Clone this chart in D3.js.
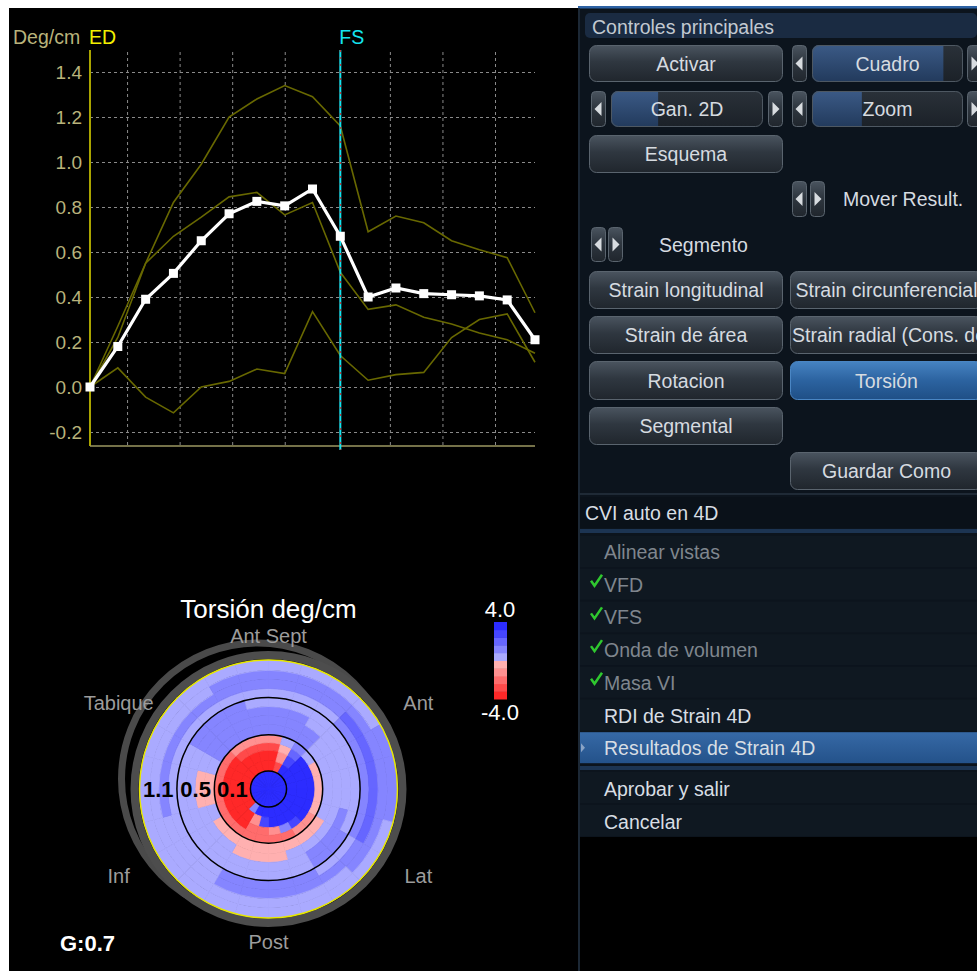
<!DOCTYPE html>
<html>
<head>
<meta charset="utf-8">
<script src="https://cdn.jsdelivr.net/npm/d3@7/dist/d3.min.js"></script>
<style>
    body { margin: 0; background: #ffffff; }
    svg text { font-family: "Liberation Sans", Arial, sans-serif; }
</style>
</head>
<body>
<svg id="screen" width="977" height="971"></svg>
<script>
// ---- torsion curves (deg/cm), one value per frame ----
var frames = [0, 1, 2, 3, 4, 5, 6, 7, 8, 9, 10, 11, 12, 13, 14, 15, 16];
var meanTorsion = [0.00, 0.18, 0.39, 0.505, 0.65, 0.77, 0.825, 0.805, 0.88, 0.67, 0.40, 0.44, 0.415, 0.41, 0.405, 0.387, 0.21];
var levelA = [0.00, 0.27, 0.55, 0.82, 0.99, 1.20, 1.28, 1.34, 1.29, 1.16, 0.69, 0.76, 0.73, 0.65, 0.61, 0.575, 0.33];
var levelB = [0.00, 0.22, 0.55, 0.67, 0.755, 0.845, 0.865, 0.765, 0.82, 0.51, 0.345, 0.365, 0.31, 0.28, 0.24, 0.21, 0.15];
var levelC = [0.00, 0.085, -0.045, -0.115, 0.00, 0.025, 0.08, 0.06, 0.335, 0.14, 0.03, 0.055, 0.065, 0.22, 0.30, 0.325, 0.11];
var yTicks = [-0.2, 0.0, 0.2, 0.4, 0.6, 0.8, 1.0, 1.2, 1.4];
var gridFrames = [1.35, 3.24, 5.13, 7.02, 10.8, 12.69, 14.58];
var edFrame = 0;
var fsFrame = 9;

// ---- bull's eye: torsion map, rings (inner -> outer) x 24 sectors clockwise from Ant Sept ----
var ringEdges = [0, 0.14, 0.22, 0.30, 0.36, 0.42, 0.50, 0.57, 0.64, 0.71, 0.78, 0.85, 0.92, 1.0];
var torsionRings = [
    [3.6, 3.6, 3.6, 3.6, 3.6, 3.6, 3.6, 3.6, 3.6, 3.6, 3.6, 3.6, 3.6, 3.6, 3.6, 3.6, 3.6, 3.6, 3.6, 3.6, 3.6, 3.6, 3.6, 3.6],
    [-3.6, -2.8, 3.6, 3.6, 3.6, 3.6, 3.6, 3.6, 3.6, 3.6, 3.6, 3.6, 3.6, 3.6, 1.2, -3.6, -3.6, -3.6, -3.6, -3.6, -3.6, -3.6, -3.6, -3.6],
    [-3.6, -1.2, 2.8, 3.6, 3.6, 3.6, 3.6, 3.6, 3.6, 3.6, 3.6, 3.6, 2.8, -1.2, -3.6, -3.6, -3.6, -3.6, -3.6, -3.6, -3.6, -3.6, -3.6, -3.6],
    [-2.8, -0.4, 2.0, 3.6, 3.6, 3.6, 3.6, 3.6, 3.6, 2.8, 1.2, -1.2, -2.0, -2.0, -3.6, -3.6, -3.6, -3.6, -3.6, -3.6, -3.6, -2.8, -2.8, -2.8],
    [-1.2, 0.4, 1.2, 0.4, -0.4, -0.4, -0.4, -0.4, -1.2, -1.2, -2.0, -2.0, -2.0, -2.0, -2.0, -2.0, -2.0, -2.0, -2.0, -2.0, -2.0, -1.2, -1.2, -1.2],
    [1.2, 1.2, 1.2, 0.4, 0.4, 0.4, 0.4, 0.4, -0.4, -0.4, -0.4, -0.4, -0.4, -0.4, -0.4, -0.4, 0.4, -0.4, -0.4, 0.4, 1.2, 1.2, 1.2, 1.2],
    [1.2, 1.2, 1.2, 0.4, 0.4, 0.4, 0.4, 0.4, 0.4, 0.4, 0.4, -0.4, -0.4, -0.4, 0.4, 0.4, 0.4, -0.4, -0.4, 0.4, 1.2, 1.2, 1.2, 1.2],
    [1.2, 1.2, 0.4, 0.4, 0.4, 0.4, 0.4, 1.2, 1.2, 1.2, 0.4, 0.4, 0.4, 0.4, 0.4, 0.4, 0.4, 0.4, 0.4, 0.4, 1.2, 1.2, 1.2, 1.2],
    [0.4, 0.4, 0.4, 0.4, 0.4, 0.4, 0.4, 0.4, 1.2, 1.2, 0.4, 0.4, 0.4, 0.4, 0.4, 0.4, 0.4, 0.4, 0.4, 0.4, 1.2, 1.2, 1.2, 0.4],
    [0.4, 0.4, 0.4, 1.2, 1.2, 1.2, 1.2, 1.2, 0.4, 0.4, 1.2, 1.2, 1.2, 1.2, 0.4, 0.4, 0.4, 0.4, 0.4, 0.4, 0.4, 0.4, 0.4, 0.4],
    [1.2, 1.2, 1.2, 2.0, 2.0, 2.0, 2.0, 2.0, 1.2, 1.2, 1.2, 1.2, 1.2, 1.2, 0.4, 0.4, 0.4, 1.2, 1.2, 1.2, 1.2, 1.2, 1.2, 1.2],
    [1.2, 1.2, 1.2, 1.2, 1.2, 1.2, 1.2, 1.2, 1.2, 0.4, 0.4, 0.4, 0.4, 0.4, 0.4, 0.4, 0.4, 0.4, 0.4, 0.4, 0.4, 0.4, 1.2, 1.2],
    [0.4, 0.4, 0.4, 0.4, 1.2, 1.2, 1.2, 0.4, 0.4, 0.4, 0.4, 0.4, 0.4, 0.4, 0.4, 0.4, 0.4, 0.4, 0.4, 0.4, 0.4, 0.4, 0.4, 0.4]
];
var zoneEdges = [0.14, 0.42, 0.71];
var zoneLabels = ["0.1", "0.5", "1.1"];
var wallNames = ["Ant Sept", "Ant", "Lat", "Post", "Inf", "Tabique"];
var wallAngles = [0, 60, 120, 180, 240, 300];
var colorLimits = [-4.0, 4.0];
var torsionColors = ["#ff2828", "#ff4a4a", "#ff6c6c", "#ff9090", "#ffb0b0",
                     "#aaaaff", "#8585ff", "#6666ff", "#4646ff", "#2c2cff"];

var font = '"Liberation Sans", Arial, sans-serif';
var svg = d3.select("#screen");

svg.append("rect").attr("width", 977).attr("height", 971).attr("fill", "#ffffff");
svg.append("rect").attr("x", 9).attr("y", 8).attr("width", 569).attr("height", 963).attr("fill", "#000000");

// ================= torsion curve =================
var x = d3.scaleLinear().domain([0, 16]).range([90, 535]);
var y = d3.scaleLinear().domain([-0.2, 1.4]).range([432, 72]);
var chart = svg.append("g");

// horizontal grid
chart.append("g")
    .attr("transform", "translate(" + x(0) + ",0)")
    .call(d3.axisLeft(y).tickValues(yTicks).tickSize(-(x(16) - x(0))).tickFormat(""))
    .call(function (g) { g.select(".domain").remove(); })
    .selectAll("line")
    .attr("stroke", "#8a8a8a")
    .attr("stroke-dasharray", "3,3");

// vertical grid
chart.selectAll(".vgrid")
    .data(gridFrames)
    .join("line")
    .attr("x1", function (d) { return x(d); })
    .attr("x2", function (d) { return x(d); })
    .attr("y1", 52)
    .attr("y2", 446)
    .attr("stroke", "#8a8a8a")
    .attr("stroke-dasharray", "3,3");

// tick labels
var yAxis = chart.append("g")
    .attr("transform", "translate(" + x(0) + ",0)")
    .call(d3.axisLeft(y).tickValues(yTicks).tickSize(0).tickPadding(8)
        .tickFormat(function (d) { return d.toFixed(1); }))
    .attr("font-family", font)
    .attr("font-size", 19);
yAxis.select(".domain").remove();
yAxis.selectAll("text").attr("fill", "#b9b37b");

// axis lines
chart.append("line")
    .attr("x1", x(0)).attr("x2", x(0)).attr("y1", 50).attr("y2", 446)
    .attr("stroke", "#a9a400").attr("stroke-width", 2);
chart.append("line")
    .attr("x1", x(0)).attr("x2", x(16)).attr("y1", 446).attr("y2", 446)
    .attr("stroke", "#9c9862").attr("stroke-width", 1.5);

// segment curves
var line = d3.line()
    .x(function (d, i) { return x(frames[i]); })
    .y(function (d) { return y(d); });

[levelA, levelB, levelC].forEach(function (s) {
    chart.append("path")
        .attr("d", line(s))
        .attr("fill", "none")
        .attr("stroke", "#686800")
        .attr("stroke-width", 1.6);
});

// FS marker
chart.append("line")
    .attr("x1", x(fsFrame)).attr("x2", x(fsFrame)).attr("y1", 50).attr("y2", 450)
    .attr("stroke", "#14e4f0").attr("stroke-width", 2);
chart.append("line")
    .attr("x1", x(fsFrame)).attr("x2", x(fsFrame)).attr("y1", 50).attr("y2", 450)
    .attr("stroke", "#e02020").attr("stroke-width", 1).attr("stroke-dasharray", "2,5");

// mean torsion
chart.append("path")
    .attr("d", line(meanTorsion))
    .attr("fill", "none")
    .attr("stroke", "#ffffff")
    .attr("stroke-width", 3.2);
chart.selectAll(".pt")
    .data(meanTorsion)
    .join("rect")
    .attr("x", function (d, i) { return x(frames[i]) - 4.5; })
    .attr("y", function (d) { return y(d) - 4.5; })
    .attr("width", 9)
    .attr("height", 9)
    .attr("fill", "#ffffff");

chart.append("text").attr("x", 13).attr("y", 44)
    .attr("font-size", 19.5).attr("fill", "#b9b37b").text("Deg/cm");
chart.append("text").attr("x", x(edFrame) - 1).attr("y", 44)
    .attr("font-size", 19.5).attr("fill", "#f4f000").text("ED");
chart.append("text").attr("x", x(fsFrame) - 1).attr("y", 44)
    .attr("font-size", 19.5).attr("fill", "#14e4f0").text("FS");

// ================= bull's eye =================
var bx = 268.5, by = 789, bR = 129;
var rr = d3.scaleLinear().domain([0, 1]).range([0, bR]);
var color = d3.scaleQuantize().domain(colorLimits).range(torsionColors);
var bull = svg.append("g");

bull.append("text").attr("x", bx).attr("y", 618).attr("text-anchor", "middle")
    .attr("font-size", 26).attr("fill", "#ffffff").text("Torsión deg/cm");

// rim of the other view, then the main rim
bull.append("circle").attr("cx", 257.5).attr("cy", 779).attr("r", 136)
    .attr("fill", "none").attr("stroke", "#4a4a4a").attr("stroke-width", 7);
bull.append("circle").attr("cx", bx).attr("cy", by).attr("r", 134)
    .attr("fill", "none").attr("stroke", "#4d4d4d").attr("stroke-width", 8);

var cells = [];
torsionRings.forEach(function (ring, k) {
    ring.forEach(function (v, i) {
        cells.push({ r0: ringEdges[k], r1: ringEdges[k + 1], i: i, n: ring.length, v: v });
    });
});
var arc = d3.arc()
    .innerRadius(function (d) { return rr(d.r0); })
    .outerRadius(function (d) { return rr(d.r1); })
    .startAngle(function (d) { return d.i / d.n * 2 * Math.PI; })
    .endAngle(function (d) { return (d.i + 1) / d.n * 2 * Math.PI; });

bull.append("g")
    .attr("transform", "translate(" + bx + "," + by + ")")
    .selectAll("path")
    .data(cells)
    .join("path")
    .attr("d", arc)
    .attr("fill", function (d) { return color(d.v); })
    .attr("stroke", function (d) { return color(d.v); })
    .attr("stroke-width", 0.8);

bull.selectAll(".zone")
    .data(zoneEdges)
    .join("circle")
    .attr("cx", bx).attr("cy", by)
    .attr("r", function (d) { return rr(d); })
    .attr("fill", "none").attr("stroke", "#000000").attr("stroke-width", 1.5);
bull.append("circle").attr("cx", bx).attr("cy", by).attr("r", rr(1))
    .attr("fill", "none").attr("stroke", "#e8e800").attr("stroke-width", 1.5);

var zoneOuter = zoneEdges.slice(1).concat([1]);
bull.selectAll(".zlab")
    .data(zoneLabels)
    .join("text")
    .attr("x", function (d, i) { return bx - rr((zoneEdges[i] + zoneOuter[i]) / 2); })
    .attr("y", by)
    .attr("text-anchor", "middle")
    .attr("dominant-baseline", "central")
    .attr("font-size", 22)
    .attr("font-weight", "bold")
    .attr("fill", "#000000")
    .text(function (d) { return d; });

bull.selectAll(".wall")
    .data(wallNames)
    .join("text")
    .attr("x", function (d, i) { return bx + 173 * Math.sin(wallAngles[i] * Math.PI / 180); })
    .attr("y", function (d, i) {
        var a = wallAngles[i] * Math.PI / 180;
        var rad = (wallAngles[i] % 180 === 0) ? 153 : 173;
        return by - rad * Math.cos(a);
    })
    .attr("text-anchor", "middle")
    .attr("dominant-baseline", "central")
    .attr("font-size", 20)
    .attr("fill", "#9c9c9c")
    .text(function (d) { return d; });

// colour bar
var cb = d3.scaleLinear().domain([colorLimits[1], colorLimits[0]]).range([622, 699]);
bull.selectAll(".band")
    .data(torsionColors)
    .join("rect")
    .attr("x", 494)
    .attr("width", 13)
    .attr("y", function (c) { return cb(color.invertExtent(c)[1]); })
    .attr("height", function (c) { var e = color.invertExtent(c); return cb(e[0]) - cb(e[1]) + 0.5; })
    .attr("fill", function (c) { return c; });
bull.append("text").attr("x", 500).attr("y", 617).attr("text-anchor", "middle")
    .attr("font-size", 22).attr("fill", "#ffffff").text(colorLimits[1].toFixed(1));
bull.append("text").attr("x", 500).attr("y", 720).attr("text-anchor", "middle")
    .attr("font-size", 22).attr("fill", "#ffffff").text(colorLimits[0].toFixed(1));

bull.append("text").attr("x", 60).attr("y", 951).attr("font-size", 22).attr("font-weight", "bold")
    .attr("fill", "#ffffff").text("G:0.7");

// ================= control panel =================
var defs = svg.append("defs");
function grad(id, stops) {
    var g = defs.append("linearGradient").attr("id", id).attr("x1", 0).attr("x2", 0).attr("y1", 0).attr("y2", 1);
    stops.forEach(function (s) { g.append("stop").attr("offset", s[0]).attr("stop-color", s[1]); });
}
grad("btn", [[0, "#4a545f"], [0.45, "#2f3740"], [1, "#20262d"]]);
grad("btnBlue", [[0, "#4683c2"], [0.5, "#2c63a0"], [1, "#1f4f86"]]);
grad("slot", [[0, "#2a3139"], [1, "#1b2128"]]);
grad("slotFill", [[0, "#3b5a86"], [1, "#223a5c"]]);
grad("sel", [[0, "#3669a6"], [1, "#24528a"]]);

var panel = svg.append("g");
panel.append("rect").attr("x", 578).attr("y", 8).attr("width", 399).attr("height", 829).attr("fill", "#0c141d");
panel.append("rect").attr("x", 578).attr("y", 6).attr("width", 399).attr("height", 2.5).attr("fill", "#2d62a4");
panel.append("line").attr("x1", 579).attr("x2", 579).attr("y1", 8).attr("y2", 971)
    .attr("stroke", "#1c2835").attr("stroke-width", 2);
panel.append("rect").attr("x", 585).attr("y", 13).attr("width", 392).attr("height", 25).attr("rx", 5)
    .attr("fill", "#1a2b42");
panel.append("text").attr("x", 592).attr("y", 27).attr("dominant-baseline", "central")
    .attr("font-size", 19.5).attr("fill", "#c2c9d1").text("Controles principales");

function label(x0, y0, txt, anchor, fill) {
    panel.append("text").attr("x", x0).attr("y", y0)
        .attr("text-anchor", anchor || "middle").attr("dominant-baseline", "central")
        .attr("font-size", 19.5).attr("fill", fill || "#d6dbe0").text(txt);
}
function button(x0, y0, w, h, txt, fill, align) {
    panel.append("rect").attr("x", x0 + 0.5).attr("y", y0 + 0.5).attr("width", w - 1).attr("height", h - 1)
        .attr("rx", 7).attr("fill", "url(#" + (fill || "btn") + ")")
        .attr("stroke", fill === "btnBlue" ? "#4a86c4" : "#5a646e");
    if (align === "start") label(x0 + 2, y0 + h / 2, txt, "start");
    else label(x0 + w / 2, y0 + h / 2, txt);
}
function arrow(x0, y0, h, dir) {
    panel.append("rect").attr("x", x0 + 0.5).attr("y", y0 + 0.5).attr("width", 14).attr("height", h - 1)
        .attr("rx", 4).attr("fill", "url(#btn)").attr("stroke", "#5a646e");
    var cx = x0 + 7.5, cy = y0 + h / 2;
    var p = dir < 0
        ? [[cx - 4, cy], [cx + 3, cy - 7], [cx + 3, cy + 7]]
        : [[cx + 4, cy], [cx - 3, cy - 7], [cx - 3, cy + 7]];
    panel.append("path").attr("d", "M" + p.join("L") + "Z").attr("fill", "#d8dce0");
}
var clipN = 0;
function slider(x0, y0, w, h, frac, txt) {
    var id = "clip" + (clipN++);
    defs.append("clipPath").attr("id", id).append("rect")
        .attr("x", x0).attr("y", y0).attr("width", w).attr("height", h).attr("rx", 7);
    var g = panel.append("g").attr("clip-path", "url(#" + id + ")");
    g.append("rect").attr("x", x0).attr("y", y0).attr("width", w).attr("height", h).attr("fill", "url(#slot)");
    g.append("rect").attr("x", x0).attr("y", y0).attr("width", w * frac).attr("height", h).attr("fill", "url(#slotFill)");
    panel.append("rect").attr("x", x0 + 0.5).attr("y", y0 + 0.5).attr("width", w - 1).attr("height", h - 1)
        .attr("rx", 7).attr("fill", "none").attr("stroke", "#4e5862");
    label(x0 + w / 2, y0 + h / 2, txt);
}

button(589, 45, 194, 37, "Activar");
arrow(792, 45, 37, -1);
slider(812, 45, 151, 37, 0.87, "Cuadro");
arrow(967, 45, 37, 1);

arrow(591, 91, 36, -1);
slider(611, 91, 152, 36, 0.31, "Gan. 2D");
arrow(768, 91, 36, 1);
arrow(792, 91, 36, -1);
slider(812, 91, 151, 36, 0.33, "Zoom");
arrow(967, 91, 36, 1);

button(589, 135, 194, 38, "Esquema");

arrow(792, 181, 36, -1);
arrow(810, 181, 36, 1);
label(843, 199, "Mover Result.", "start");

arrow(591, 227, 35, -1);
arrow(608, 227, 35, 1);
label(659, 245, "Segmento", "start");

button(589, 271, 194, 38, "Strain longitudinal");
button(790, 271, 193, 38, "Strain circunferencial");
button(589, 316, 194, 38, "Strain de área");
button(790, 316, 193, 38, "Strain radial (Cons. de)", "btn", "start");
button(589, 361, 194, 39, "Rotacion");
button(790, 361, 193, 39, "Torsión", "btnBlue");
button(589, 407, 194, 38, "Segmental");
button(790, 452, 193, 38, "Guardar Como");

panel.append("line").attr("x1", 578).attr("x2", 977).attr("y1", 494).attr("y2", 494)
    .attr("stroke", "#1f2a36").attr("stroke-width", 2);

// workflow list
panel.append("rect").attr("x", 580).attr("y", 497).attr("width", 397).attr("height", 31).attr("fill", "#0a1119");
label(585, 513, "CVI auto en 4D", "start", "#d8dee4");
panel.append("rect").attr("x", 580).attr("y", 529).attr("width", 397).attr("height", 4).attr("fill", "#1c3452");

var steps = [
    { t: "Alinear vistas", done: false, dim: true },
    { t: "VFD", done: true, dim: true },
    { t: "VFS", done: true, dim: true },
    { t: "Onda de volumen", done: true, dim: true },
    { t: "Masa VI", done: true, dim: true },
    { t: "RDI de Strain 4D", done: false, dim: false },
    { t: "Resultados de Strain 4D", done: false, dim: false, sel: true }
];
steps.forEach(function (s, i) {
    var top = 536 + i * 32.7;
    panel.append("rect").attr("x", 580).attr("y", top).attr("width", 397).attr("height", 31)
        .attr("fill", s.sel ? "url(#sel)" : "#0f1821");
    if (s.sel) {
        panel.append("path").attr("d", "M581," + (top + 11) + "L585," + (top + 15.5) + "L581," + (top + 20) + "Z")
            .attr("fill", "#8aa4c6");
    }
    if (s.done) {
        panel.append("path")
            .attr("d", "M591," + (top + 12) + "L594.5," + (top + 17) + "L602," + (top + 6))
            .attr("fill", "none").attr("stroke", "#2fc82f").attr("stroke-width", 2.5);
    }
    label(604, top + 16, s.t, "start", s.dim ? "#7f868e" : "#d8dee4");
});
panel.append("rect").attr("x", 580).attr("y", 766).attr("width", 397).attr("height", 4).attr("fill", "#1c3452");
["Aprobar y salir", "Cancelar"].forEach(function (t, i) {
    var top = 772 + i * 33;
    panel.append("rect").attr("x", 580).attr("y", top).attr("width", 397).attr("height", 31).attr("fill", "#0f1821");
    label(604, top + 17, t, "start", "#d8dee4");
});
panel.append("rect").attr("x", 580).attr("y", 837).attr("width", 397).attr("height", 134).attr("fill", "#000000");
</script>
</body>
</html>
